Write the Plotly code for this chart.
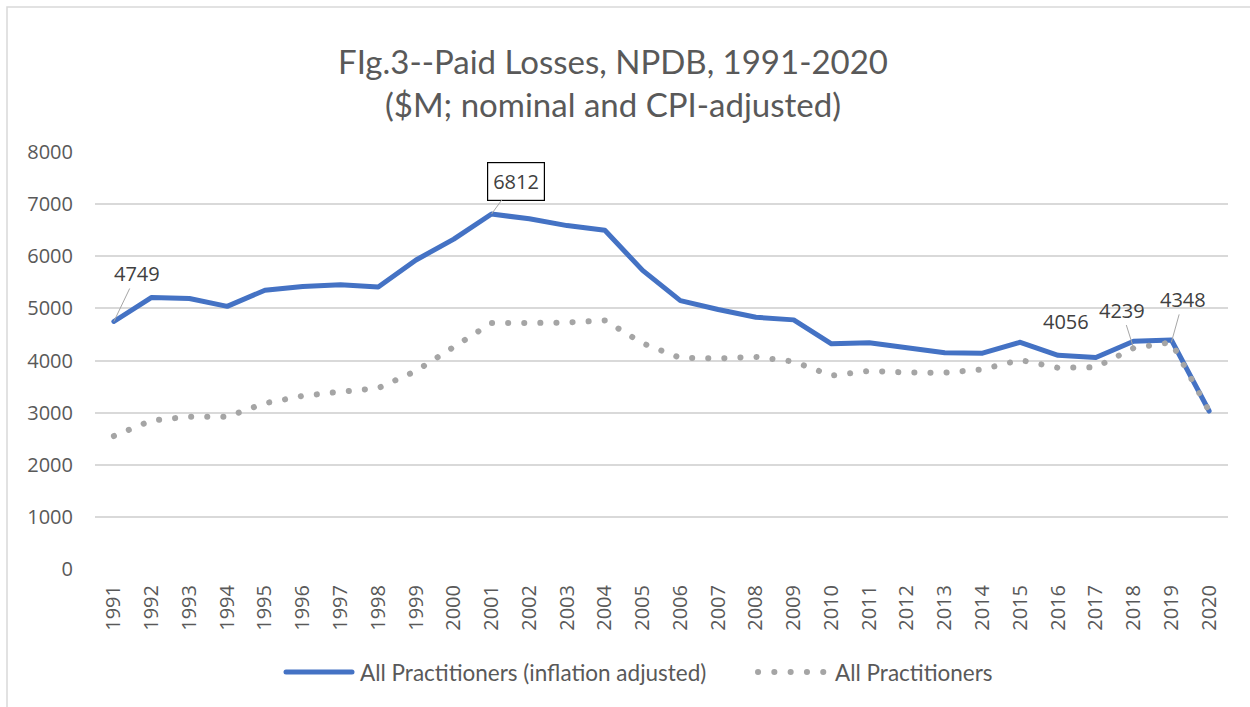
import plotly.graph_objects as go

years = [str(y) for y in range(1991, 2021)]
adjusted = [4749, 5210, 5190, 5040, 5350, 5420, 5455, 5410, 5930, 6330,
            6812, 6720, 6590, 6500, 5730, 5150, 4980, 4830, 4780, 4320,
            4340, 4240, 4150, 4140, 4350, 4100, 4056, 4370, 4395, 3030]
nominal = [2550, 2850, 2920, 2920, 3180, 3320, 3400, 3470, 3800, 4260,
           4720, 4720, 4730, 4770, 4330, 4050, 4040, 4070, 3980, 3710,
           3800, 3770, 3765, 3830, 4010, 3860, 3870, 4239, 4348, 3030]

series_names = ["All Practitioners (inflation adjusted)", "All Practitioners"]
title_text = "FIg.3--Paid Losses, NPDB, 1991-2020<br>($M; nominal and CPI-adjusted)"
y_ticks = [0, 1000, 2000, 3000, 4000, 5000, 6000, 7000, 8000]

# labelled points: (year, value, ax, ay, boxed, arrow)
labels = [
    ("1991", 4749, 23, -48, False, True),
    ("2001", 6812, 24, -33, True, True),
    ("2017", 4056, -30, -36, False, False),
    ("2018", 4239, -12, -38, False, True),
    ("2019", 4348, 12, -43, False, True),
]

BLUE = "#4472C4"
GREY = "#A5A5A5"
DOTS = "0.1px,16px"

W, H = 1250, 707
ML, MR, MT, MB = 95, 22, 152, 138
PW = W - ML - MR
PH = H - MT - MB

def px_x(px):
    return (px - ML) / PW

def px_y(py):
    return (H - MB - py) / PH

fig = go.Figure()
fig.add_trace(go.Scatter(x=years, y=adjusted, mode="lines", name=series_names[0],
                         line=dict(color=BLUE, width=5), showlegend=False))
fig.add_trace(go.Scatter(x=years, y=nominal, mode="lines", name=series_names[1],
                         line=dict(color=GREY, width=6, dash=DOTS), showlegend=False))

annos = []
for yr, val, ax, ay, boxed, arrow in labels:
    a = dict(x=years.index(yr), y=val, xref="x", yref="y", text=str(val),
             font=dict(family="Open Sans", size=20, color="#404040"))
    if arrow:
        a.update(showarrow=True, ax=ax, ay=ay, arrowhead=0, arrowwidth=1,
                 arrowcolor="#A6A6A6", standoff=0)
    else:
        a.update(showarrow=False, xshift=ax, yshift=-ay)
    if boxed:
        a.update(bordercolor="#000000", borderwidth=1.2, borderpad=5, bgcolor="#FFFFFF")
    annos.append(a)

# legend (drawn manually to match the long swatches)
LEG_Y = px_y(672)
annos.append(dict(x=px_x(358), y=LEG_Y, xref="paper", yref="paper", xanchor="left",
                  yanchor="middle", showarrow=False, text=series_names[0],
                  font=dict(family="Lato", size=22.5, color="#595959")))
annos.append(dict(x=px_x(833), y=LEG_Y, xref="paper", yref="paper", xanchor="left",
                  yanchor="middle", showarrow=False, text=series_names[1],
                  font=dict(family="Lato", size=22.5, color="#595959")))

shapes = [
    dict(type="rect", xref="paper", yref="paper",
         x0=px_x(7), x1=px_x(W + 20), y0=px_y(H + 20), y1=px_y(7),
         line=dict(color="#D9D9D9", width=1.5), fillcolor="rgba(0,0,0,0)", layer="below"),
    dict(type="line", xref="paper", yref="paper", x0=px_x(286), x1=px_x(352),
         y0=LEG_Y, y1=LEG_Y, line=dict(color=BLUE, width=5)),
    dict(type="line", xref="paper", yref="paper", x0=px_x(758), x1=px_x(825),
         y0=LEG_Y, y1=LEG_Y, line=dict(color=GREY, width=6, dash="0.1px,16.2px")),
]

fig.update_layout(
    width=W, height=H,
    margin=dict(l=ML, r=MR, t=MT, b=MB),
    paper_bgcolor="white", plot_bgcolor="white",
    showlegend=False,
    title=dict(text=title_text, x=px_x(613), xref="paper", xanchor="center",
               y=1 - 74 / H, yanchor="top",
               font=dict(family="Lato", size=33, color="#595959")),
    xaxis=dict(type="category", range=[-0.5, 29.5], autorange=False,
               showgrid=False, zeroline=False, showline=False,
               ticks="", tickangle=-90, ticklabelstandoff=11,
               tickfont=dict(family="Open Sans", size=20, color="#595959")),
    yaxis=dict(range=[-3, 8003], autorange=False, tickvals=y_ticks, showgrid=True,
               gridcolor="#D9D9D9", gridwidth=1.5, zeroline=False, showline=False,
               ticks="", ticklabelstandoff=21,
               tickfont=dict(family="Open Sans", size=20, color="#595959")),
    annotations=annos,
    shapes=shapes,
)

post = """
document.body.style.margin = '0';
document.body.style.padding = '0';
var gd = document.getElementById('{plot_id}');
gd.querySelectorAll('path').forEach(function(p){
  var s = p.style.stroke || p.getAttribute('stroke') || '';
  if (s.indexOf('165, 165, 165') >= 0 || s.indexOf('68, 114, 196') >= 0 ||
      s.toLowerCase() === '#a5a5a5' || s.toLowerCase() === '#4472c4') {
    p.style.strokeLinecap = 'round';
    p.style.strokeLinejoin = 'round';
  }
});
"""

fig.write_html("out.html", post_script=post,
               config={"responsive": False, "displayModeBar": False})
